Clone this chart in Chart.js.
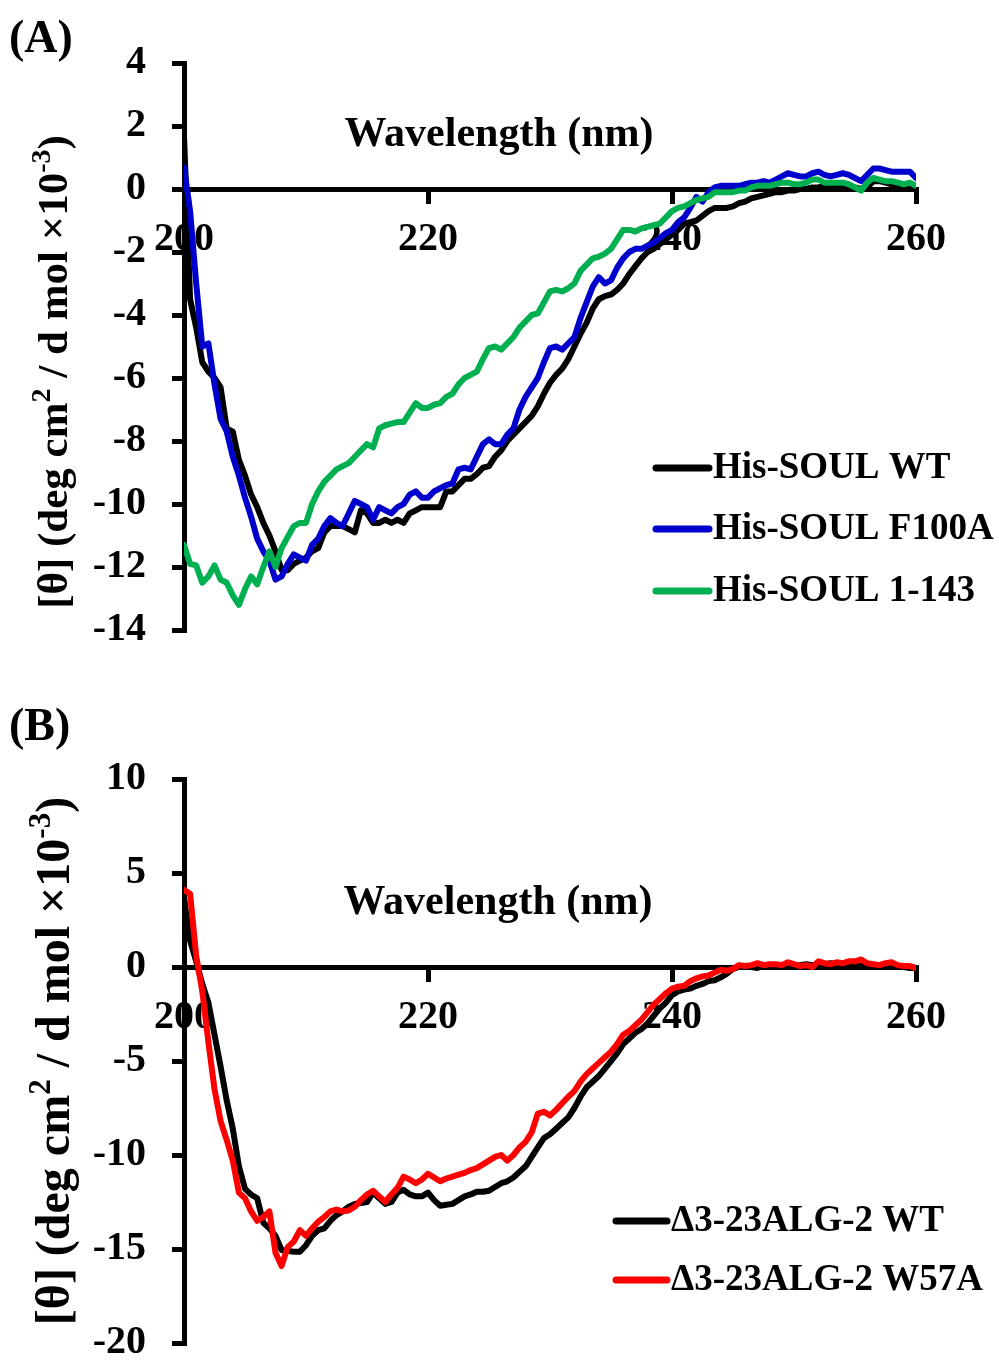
<!DOCTYPE html>
<html><head><meta charset="utf-8">
<script src="https://cdn.jsdelivr.net/npm/chart.js@4.4.1/dist/chart.umd.min.js"></script>
<style>
html,body{margin:0;padding:0;background:#fff;width:999px;height:1360px;overflow:hidden;position:relative;}
.wrap{position:absolute;left:0;width:999px;}
canvas{display:block;}
</style>
</head><body>
<div class="wrap" style="top:0;height:680px;"><canvas id="cA" width="999" height="680"></canvas></div>
<div class="wrap" style="top:680px;height:713px;"><canvas id="cB" width="999" height="713"></canvas></div>
<script>
const wavelengths = [200,200.5,201,201.5,202,202.5,203,203.5,204,204.5,
205,205.5,206,206.5,207,207.5,208,208.5,209,209.5,
210,210.5,211,211.5,212,212.5,213,213.5,214,214.5,
215,215.5,216,216.5,217,217.5,218,218.5,219,219.5,
220,220.5,221,221.5,222,222.5,223,223.5,224,224.5,
225,225.5,226,226.5,227,227.5,228,228.5,229,229.5,
230,230.5,231,231.5,232,232.5,233,233.5,234,234.5,
235,235.5,236,236.5,237,237.5,238,238.5,239,239.5,
240,240.5,241,241.5,242,242.5,243,243.5,244,244.5,
245,245.5,246,246.5,247,247.5,248,248.5,249,249.5,
250,250.5,251,251.5,252,252.5,253,253.5,254,254.5,
255,255.5,256,256.5,257,257.5,258,258.5,259,259.5,
260];

const soulWT = [1.7,-3.5,-4.4,-5.5,-5.8,-6.0,-6.3,-7.6,-7.7,-8.6,
-9.1,-9.7,-10.1,-10.6,-11.0,-11.5,-12.1,-12.1,-11.9,-11.8,
-11.7,-11.5,-11.4,-10.9,-10.7,-10.7,-10.7,-10.8,-10.9,-10.2,
-10.3,-10.6,-10.6,-10.5,-10.6,-10.5,-10.6,-10.3,-10.2,-10.1,
-10.1,-10.1,-10.1,-9.6,-9.6,-9.4,-9.2,-9.2,-9.05,-8.85,
-8.8,-8.5,-8.3,-8.0,-7.8,-7.6,-7.4,-7.2,-6.9,-6.5,
-6.15,-5.9,-5.7,-5.4,-5.0,-4.6,-4.25,-3.8,-3.5,-3.4,
-3.35,-3.2,-3.0,-2.7,-2.45,-2.2,-2.0,-1.9,-1.75,-1.6,
-1.45,-1.3,-1.1,-1.05,-1.0,-0.85,-0.7,-0.6,-0.6,-0.6,
-0.55,-0.45,-0.4,-0.3,-0.25,-0.2,-0.15,-0.1,-0.1,-0.05,
-0.05,0.0,0.0,0.05,0.05,0.1,0.1,0.1,0.1,0.05,
0.05,0.0,0.05,0.25,0.25,0.2,0.15,0.15,0.1,0.1,
0.1];

const soulF100A = [0.7,-0.7,-3.0,-5.0,-4.9,-6.2,-7.3,-7.7,-8.5,-9.1,
-9.8,-10.4,-11.1,-11.5,-11.8,-12.4,-12.3,-11.9,-11.6,-11.7,
-11.8,-11.3,-11.1,-10.7,-10.45,-10.6,-10.7,-10.3,-9.9,-10.0,
-10.1,-10.5,-10.1,-10.2,-10.3,-10.1,-10.0,-9.7,-9.6,-9.8,
-9.8,-9.6,-9.5,-9.4,-9.35,-8.9,-8.85,-8.9,-8.5,-8.1,
-7.95,-8.1,-8.1,-7.8,-7.6,-7.0,-6.6,-6.3,-6.0,-5.5,
-5.05,-5.0,-5.1,-4.9,-4.7,-4.1,-3.6,-3.1,-2.8,-3.0,
-2.9,-2.5,-2.2,-2.0,-1.9,-1.9,-1.8,-1.7,-1.55,-1.4,
-1.3,-1.05,-0.9,-0.6,-0.25,-0.4,-0.1,0.05,0.1,0.1,
0.1,0.1,0.15,0.2,0.2,0.25,0.2,0.3,0.4,0.5,
0.45,0.4,0.4,0.5,0.55,0.45,0.4,0.45,0.5,0.45,
0.35,0.25,0.45,0.65,0.65,0.6,0.55,0.55,0.55,0.55,
0.35];

const soul1to143 = [-11.3,-11.9,-11.95,-12.5,-12.3,-11.95,-12.4,-12.5,-12.9,-13.2,
-12.7,-12.3,-12.55,-12.0,-11.5,-12.0,-11.4,-11.05,-10.7,-10.6,
-10.6,-10.0,-9.6,-9.3,-9.1,-8.9,-8.8,-8.7,-8.5,-8.3,
-8.1,-8.2,-7.6,-7.5,-7.45,-7.4,-7.4,-7.1,-6.8,-6.95,
-6.95,-6.85,-6.8,-6.6,-6.5,-6.2,-6.0,-5.9,-5.8,-5.4,
-5.05,-5.0,-5.1,-4.9,-4.7,-4.4,-4.2,-4.0,-3.95,-3.6,
-3.25,-3.2,-3.25,-3.15,-3.0,-2.6,-2.4,-2.2,-2.15,-2.05,
-1.9,-1.6,-1.3,-1.3,-1.35,-1.25,-1.2,-1.15,-1.1,-0.9,
-0.7,-0.6,-0.55,-0.45,-0.35,-0.3,-0.25,-0.1,-0.1,-0.1,
-0.1,-0.05,-0.05,0.05,0.1,0.1,0.1,0.15,0.2,0.2,
0.15,0.15,0.2,0.3,0.3,0.2,0.2,0.2,0.2,0.15,
0.05,-0.05,0.2,0.35,0.3,0.25,0.25,0.2,0.15,0.2,
0.1];

const algWT = [3.7,1.4,0.3,-0.9,-1.9,-3.6,-5.3,-7.1,-8.6,-10.6,
-11.8,-12.1,-12.3,-13.6,-13.9,-14.3,-15.05,-15.1,-15.15,-15.15,
-14.8,-14.3,-14.0,-13.9,-13.5,-13.2,-13.0,-12.75,-12.6,-12.55,
-12.5,-12.0,-12.3,-12.6,-12.5,-12.0,-11.85,-12.1,-12.2,-12.2,
-12.0,-12.4,-12.7,-12.65,-12.6,-12.4,-12.2,-12.1,-11.95,-11.95,
-11.9,-11.7,-11.5,-11.4,-11.2,-10.9,-10.6,-10.1,-9.6,-9.1,
-8.9,-8.6,-8.3,-8.0,-7.5,-6.9,-6.4,-6.1,-5.8,-5.4,
-5.0,-4.6,-4.1,-3.8,-3.5,-3.3,-3.0,-2.6,-2.2,-1.9,
-1.5,-1.3,-1.2,-1.15,-1.0,-0.9,-0.75,-0.7,-0.55,-0.35,
-0.1,0.0,0.05,0.0,-0.05,0.05,0.1,0.0,0.1,0.1,
0.05,0.1,0.15,0.1,0.05,0.15,0.2,0.15,0.1,0.1,
0.15,0.05,0.1,0.1,0.0,0.05,0.0,0.05,0.0,-0.05,
-0.05];

const algW57A = [4.1,3.9,0.6,-1.3,-4.0,-6.5,-8.2,-9.2,-10.3,-12.0,
-12.3,-13.0,-13.5,-13.3,-13.0,-15.2,-15.9,-14.9,-14.6,-14.0,
-14.3,-13.9,-13.55,-13.3,-13.0,-12.9,-13.0,-12.95,-12.75,-12.4,
-12.1,-11.9,-12.2,-12.5,-12.1,-11.75,-11.15,-11.3,-11.5,-11.3,
-11.0,-11.2,-11.4,-11.25,-11.15,-11.05,-10.95,-10.8,-10.7,-10.5,
-10.3,-10.1,-10.0,-10.3,-10.0,-9.6,-9.3,-8.8,-7.8,-7.7,
-7.9,-7.6,-7.25,-6.9,-6.6,-6.1,-5.7,-5.4,-5.1,-4.8,
-4.5,-4.1,-3.6,-3.4,-3.1,-2.8,-2.4,-2.0,-1.7,-1.4,
-1.15,-1.05,-1.0,-0.75,-0.6,-0.5,-0.45,-0.3,-0.15,-0.2,
-0.1,0.1,0.05,0.1,0.2,0.1,0.15,0.15,0.1,0.25,
0.15,0.05,0.1,0.0,0.3,0.2,0.15,0.25,0.2,0.3,
0.3,0.4,0.2,0.15,0.1,0.2,0.25,0.1,0.05,0.05,
-0.05];

const xTicks = [200, 220, 240, 260];
const yTicksA = [4, 2, 0, -2, -4, -6, -8, -10, -12, -14];
const yTicksB = [10, 5, 0, -5, -10, -15, -20];
const seriesNamesA = ['His-SOUL WT', 'His-SOUL F100A', 'His-SOUL 1-143'];
const seriesNamesB = ['\u03943-23ALG-2 WT', '\u03943-23ALG-2 W57A'];
const xTitleText = 'Wavelength (nm)';

const FONT = "'Liberation Serif', 'Times New Roman', serif";

const decorPlugin = {
  id: 'decor',
  afterDraw(chart, args, o) {
    const ctx = chart.ctx;
    const zero = chart.scales.y.getPixelForValue(0);
    ctx.save();
    ctx.fillStyle = '#000';
    ctx.font = 'bold 42px ' + FONT;
    ctx.textAlign = 'center';
    ctx.textBaseline = 'middle';
    ctx.fillText(xTitleText, o.xTitleX, zero - o.xTitleGap);
    ctx.textAlign = 'left';
    ctx.font = 'bold 46px ' + FONT;
    ctx.fillText(o.panel, 9, o.panelY);
    ctx.font = 'bold 37px ' + FONT;
    chart.data.datasets.forEach((ds, i) => {
      const y = o.legendY[i];
      ctx.strokeStyle = ds.borderColor;
      ctx.lineWidth = 7;
      ctx.lineCap = 'round';
      ctx.beginPath();
      ctx.moveTo(o.legendX1, y);
      ctx.lineTo(o.legendX2, y);
      ctx.stroke();
      ctx.fillStyle = '#000';
      ctx.textBaseline = 'middle';
      ctx.fillText(ds.label, o.legendTextX, y);
    });
    const parts = [
      ['[\u03b8] (deg cm', false], ['2', true], [' / d mol \u00d710', false], ['-3', true], [')', false]
    ];
    const mainF = 'bold ' + o.yTitleSize + 'px ' + FONT, supF = 'bold ' + Math.round(o.yTitleSize * 0.65) + 'px ' + FONT;
    let total = 0;
    parts.forEach(p => { ctx.font = p[1] ? supF : mainF; total += ctx.measureText(p[0]).width; });
    ctx.translate(o.yTitleX, o.yTitleCY);
    ctx.rotate(-Math.PI / 2);
    ctx.textAlign = 'left';
    ctx.textBaseline = 'alphabetic';
    let cx = -total / 2;
    const base = o.yTitleSize * 0.35;
    parts.forEach(p => {
      ctx.font = p[1] ? supF : mainF;
      ctx.fillText(p[0], cx, p[1] ? base - o.yTitleSize * 0.4 : base);
      cx += ctx.measureText(p[0]).width;
    });
    ctx.restore();
  }
};

function axisCommon() {
  return {
    grid: { drawOnChartArea: false, drawTicks: true, tickLength: 12, color: '#000', lineWidth: 5 },
    border: { display: true, color: '#000', width: 5 },
  };
}

function makeChart(id, cfg) {
  const ax = axisCommon(), ay = axisCommon();
  return new Chart(document.getElementById(id), {
    type: 'line',
    data: {
      labels: wavelengths,
      datasets: cfg.series.map(s => ({
        label: s.label, data: s.data, borderColor: s.color, backgroundColor: s.color,
        borderWidth: 6, pointRadius: 0, tension: 0, fill: false, order: s.order,
        borderJoinStyle: 'round', borderCapStyle: 'round'
      }))
    },
    options: {
      responsive: false, animation: false,
      layout: { padding: { left: 0, right: 83, top: cfg.padTop, bottom: cfg.padBottom } },
      plugins: { legend: { display: false }, tooltip: { enabled: false }, decor: cfg.decor },
      scales: {
        x: {
          type: 'linear', position: { y: 0 }, min: 200, max: 260,
          afterBuildTicks: s => { s.ticks = xTicks.map(v => ({ value: v })); },
          grid: ax.grid, border: ax.border,
          ticks: { color: '#000', font: { family: FONT, size: 40, weight: 'bold' }, padding: 15, maxRotation: 0, minRotation: 0, autoSkip: false }
        },
        y: {
          type: 'linear', position: 'left', min: cfg.ymin, max: cfg.ymax,
          afterBuildTicks: s => { s.ticks = cfg.yTicks.map(v => ({ value: v })); },
          afterFit: s => { s.width = 184; },
          grid: ay.grid, border: ay.border,
          ticks: { color: '#000', font: { family: FONT, size: 40, weight: 'bold' }, padding: 26 }
        }
      }
    },
    plugins: [decorPlugin]
  });
}

makeChart('cA', {
  ymin: -14, ymax: 4, yTicks: yTicksA, padTop: 63, padBottom: 49,
  series: [
    { label: seriesNamesA[0], data: soulWT, color: '#000000', order: 3 },
    { label: seriesNamesA[1], data: soulF100A, color: '#0000CC', order: 2 },
    { label: seriesNamesA[2], data: soul1to143, color: '#00B050', order: 1 }
  ],
  decor: { panel: '(A)', panelY: 40, xTitleX: 499, xTitleGap: 54, yTitleX: 52, yTitleCY: 372, yTitleSize: 43,
    legendX1: 656, legendX2: 709, legendTextX: 713, legendY: [468, 529, 591] }
});

makeChart('cB', {
  ymin: -20, ymax: 10, yTicks: yTicksB, padTop: 99, padBottom: 50,
  series: [
    { label: seriesNamesB[0], data: algWT, color: '#000000', order: 2 },
    { label: seriesNamesB[1], data: algW57A, color: '#FF0000', order: 1 }
  ],
  decor: { panel: '(B)', panelY: 48, xTitleX: 498, xTitleGap: 64, yTitleX: 52, yTitleCY: 381, yTitleSize: 48,
    legendX1: 616, legendX2: 667, legendTextX: 671, legendY: [541, 600] }
});
</script>
</body></html>
